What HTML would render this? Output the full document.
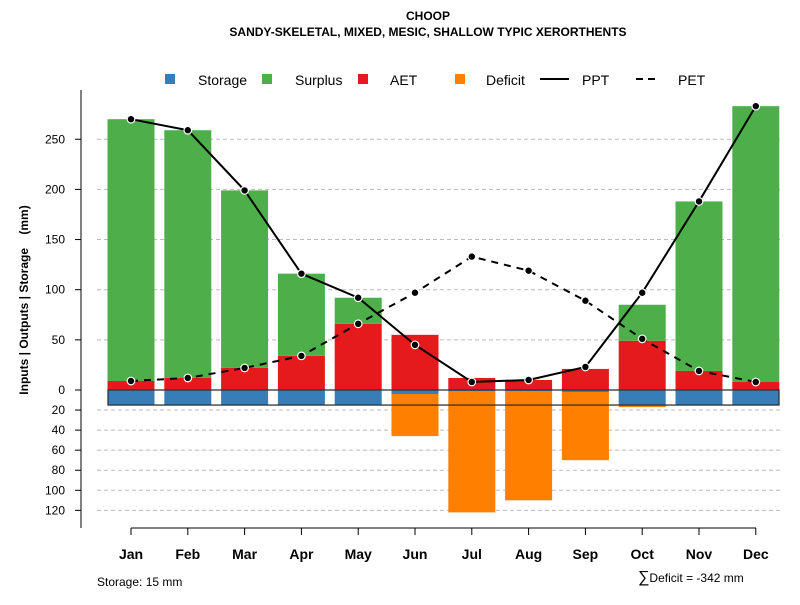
<!DOCTYPE html>
<html><head><meta charset="utf-8"><style>
body{margin:0;background:#fff;font-family:"Liberation Sans",sans-serif}
svg text{font-family:"Liberation Sans",sans-serif}
</style></head><body>
<svg id="c" width="800" height="600" xmlns="http://www.w3.org/2000/svg">
<text x="428" y="20" text-anchor="middle" font-size="12" font-weight="bold">CHOOP</text>
<text x="428" y="36" text-anchor="middle" font-size="12" font-weight="bold">SANDY-SKELETAL, MIXED, MESIC, SHALLOW TYPIC XERORTHENTS</text>
<g id="grid"></g><g id="bars"></g><g id="lines"></g><g id="axes"></g>
<g font-size="14">
<rect x="165" y="74" width="10" height="10" fill="#377eb8"/>
<text x="198" y="85">Storage</text>
<rect x="262" y="74" width="10" height="10" fill="#4daf4a"/>
<text x="295" y="85">Surplus</text>
<rect x="358" y="74" width="10" height="10" fill="#e41a1c"/>
<text x="390" y="85">AET</text>
<rect x="455" y="74" width="10" height="10" fill="#ff7f00"/>
<text x="486" y="85">Deficit</text>
<line x1="540" y1="79" x2="569" y2="79" stroke="#000" stroke-width="2"/>
<text x="582" y="85">PPT</text>
<line x1="636" y1="79" x2="660" y2="79" stroke="#000" stroke-width="2" stroke-dasharray="7,5"/>
<text x="678" y="85">PET</text>
</g>
<text transform="translate(28,300) rotate(-90)" text-anchor="middle" font-size="12" font-weight="bold">Inputs | Outputs | Storage&#160;&#160;&#160;&#160;(mm)</text>
<text x="97" y="586" font-size="12">Storage: 15 mm</text>
<text x="638" y="582" font-size="12"><tspan font-size="16">∑</tspan>Deficit = -342 mm</text>
</svg>
<script>
const months=["Jan","Feb","Mar","Apr","May","Jun","Jul","Aug","Sep","Oct","Nov","Dec"];
const ppt=[270,259,199,116,92,45,8,10,23,97,188,283];
const pet=[9,12,22,34,66,97,133,119,89,51,19,8];
const aet=[9,12,22,34,66,55,12,10,21,49,19,8];
const surplus=[261,247,177,82,26,0,0,0,0,36,169,275];
const storage=[15,15,15,15,15,4,1,1,2,15,15,15];
const deficit=[0,0,0,0,0,42,121,109,68,2,0,0];
const upTicks=[0,50,100,150,200,250];
const downTicks=[20,40,60,80,100,120];
const NS="http://www.w3.org/2000/svg";
const x0=131,dx=56.8,bw=47,zero=390,k=1.003;
const xs=i=>x0+i*dx;
const yUp=v=>zero-v*k;
const yDn=v=>zero+v*k;
function mk(t,a,p){const e=document.createElementNS(NS,t);for(const n in a)e.setAttribute(n,a[n]);p.appendChild(e);return e;}
const G=document.getElementById('grid'),B=document.getElementById('bars'),L=document.getElementById('lines'),A=document.getElementById('axes');
upTicks.forEach(v=>{if(v>0){const l=mk('line',{x1:97,x2:780,y1:yUp(v),y2:yUp(v),stroke:'#bbb','stroke-dasharray':'4,3'},G);

}
const t=mk('text',{x:65,y:yUp(v)+4,'text-anchor':'end','font-size':12},A);t.textContent=v;


mk('line',{x1:75,x2:81,y1:yUp(v),y2:yUp(v),stroke:'#000'},A);});
downTicks.forEach(v=>{const l=mk('line',{x1:97,x2:780,y1:yDn(v),y2:yDn(v),stroke:'#bbb','stroke-dasharray':'4,3'},G);


const t=mk('text',{x:65,y:yDn(v)+4,'text-anchor':'end','font-size':12},A);t.textContent=v;


mk('line',{x1:75,x2:81,y1:yDn(v),y2:yDn(v),stroke:'#000'},A);});
mk('line',{x1:81,x2:81,y1:90,y2:528,stroke:'#000'},A);
mk('line',{x1:131,x2:756,y1:528,y2:528,stroke:'#000'},A);
months.forEach((m,i)=>{const x=xs(i);
const r1=mk('rect',{x:x-bw/2,y:yUp(aet[i]),width:bw,height:aet[i]*k,fill:'#e41a1c'},B);


const r2=mk('rect',{x:x-bw/2,y:yUp(aet[i]+surplus[i]),width:bw,height:surplus[i]*k,fill:'#4daf4a'},B);


const r3=mk('rect',{x:x-bw/2,y:zero,width:bw,height:storage[i]*k,fill:'#377eb8'},B);


const r4=mk('rect',{x:x-bw/2,y:yDn(storage[i]),width:bw,height:deficit[i]*k,fill:'#ff7f00'},B);


mk('line',{x1:x,x2:x,y1:528,y2:535,stroke:'#000'},A);
const t=mk('text',{x:x,y:559,'text-anchor':'middle','font-size':14,'font-weight':'bold'},A);t.textContent=m;

});
const box=mk('rect',{x:108,y:zero,width:671,height:15*k,fill:'none',stroke:'#333','stroke-width':1.3},B);


function series(arr,dash,name){const p=mk('polyline',{points:arr.map((v,i)=>xs(i)+','+yUp(v)).join(' '),fill:'none',stroke:'#000','stroke-width':2,'stroke-dasharray':dash},L);


arr.forEach((v,i)=>{const c=mk('circle',{cx:xs(i),cy:yUp(v),r:3.8,fill:'#000',stroke:'#fff','stroke-width':1.2},L);

});}
series(pet,'7,6','pet');
series(ppt,'none','ppt');
</script>
</body></html>
